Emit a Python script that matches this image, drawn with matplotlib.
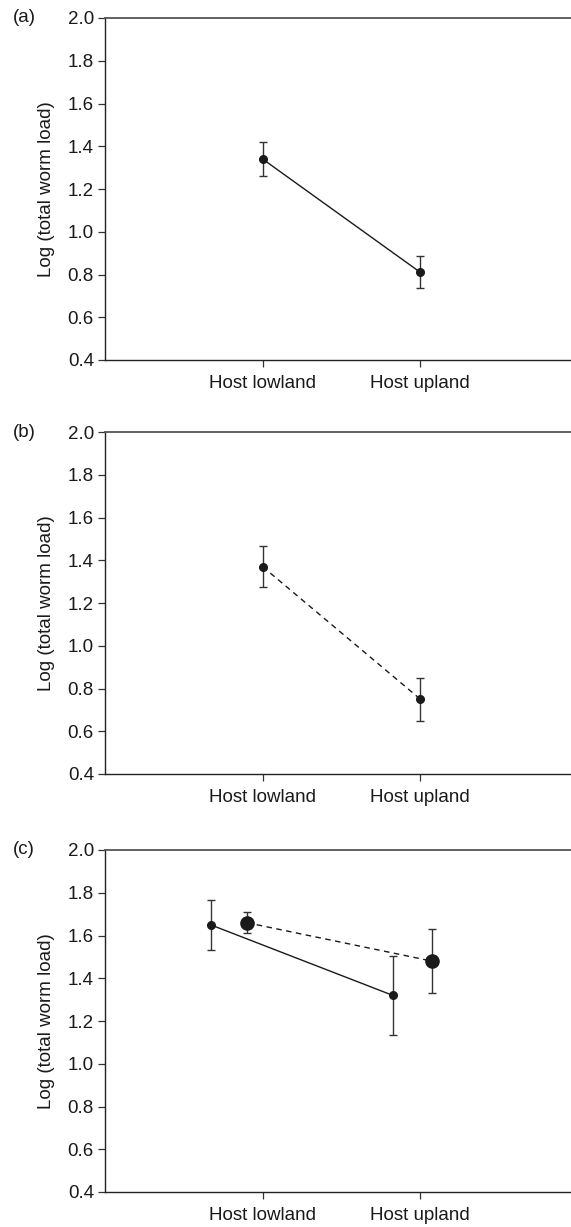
import matplotlib
matplotlib.use("Agg")
import matplotlib.pyplot as plt

plt.rcParams["font.family"] = ["Liberation Sans", "DejaVu Sans"]

categories = ["Host lowland", "Host upland"]
y_ticks = [0.4, 0.6, 0.8, 1.0, 1.2, 1.4, 1.6, 1.8, 2.0]
y_label = "Log (total worm load)"

# panel (a)
a_mean = [1.34, 0.81]
a_err = [0.08, 0.075]

# panel (b)
b_mean = [1.37, 0.75]
b_err = [0.095, 0.10]

# panel (c): two groups, dodged around the category ticks
c_solid_mean = [1.65, 1.32]
c_solid_err = [0.117, 0.185]
c_solid_dodge = [-0.33, -0.175]
c_dash_mean = [1.66, 1.48]
c_dash_err = [0.05, 0.15]
c_dash_dodge = [-0.10, 0.075]

W, H = 571, 1227
fs = 13.5
fig = plt.figure(figsize=(W / 100, H / 100), dpi=100)

left = 105 / W
width = (578 - 105) / W
height = 342 / H
tops = [18, 432, 850]
labels = ["(a)", "(b)", "(c)"]

axes = []
for top, lab in zip(tops, labels):
    ax = fig.add_axes([left, 1 - (top + 342) / H, width, height])
    ax.set_xlim(0, 3)
    ax.set_ylim(0.4, 2.0)
    ax.set_yticks(y_ticks)
    ax.set_yticklabels([f"{v:.1f}" for v in y_ticks])
    ax.set_xticks([1, 2])
    ax.set_xticklabels(categories)
    ax.spines["right"].set_visible(False)
    ax.spines["top"].set_color("#555555")
    ax.spines["top"].set_linewidth(1.3)
    for s in ("left", "bottom"):
        ax.spines[s].set_linewidth(1.0)
        ax.spines[s].set_color("#222222")
    ax.tick_params(axis="both", direction="out", length=5, width=0.9,
                   color="#333333", labelsize=fs, labelcolor="#1a1a1a")
    ax.tick_params(axis="y", pad=3)
    ax.tick_params(axis="x", pad=6)
    ax.set_ylabel(y_label, fontsize=fs, color="#1a1a1a", labelpad=9)
    fig.text(13 / W, 1 - top / H, lab, fontsize=fs, ha="left", va="center",
             color="#1a1a1a")
    axes.append(ax)

x = [1, 2]
err_kw = dict(ecolor="#333333", elinewidth=1.0, capsize=3, capthick=1.0,
              color="#1a1a1a", markerfacecolor="#1a1a1a",
              markeredgecolor="#1a1a1a", lw=1.0)

axes[0].errorbar(x, a_mean, yerr=a_err, fmt="o-", markersize=5.5, **err_kw)
axes[1].errorbar(x, b_mean, yerr=b_err, fmt="o", markersize=5.5, **err_kw)
axes[1].plot(x, b_mean, color="#1a1a1a", lw=1.0, dashes=(4, 3.2))

xs = [xi + d for xi, d in zip(x, c_solid_dodge)]
xd = [xi + d for xi, d in zip(x, c_dash_dodge)]
axes[2].errorbar(xs, c_solid_mean, yerr=c_solid_err, fmt="o-", markersize=5.5,
                 **err_kw)
axes[2].errorbar(xd, c_dash_mean, yerr=c_dash_err, fmt="o", markersize=9.5,
                 **err_kw)
axes[2].plot(xd, c_dash_mean, color="#1a1a1a", lw=1.0, dashes=(4, 3.2))

fig.savefig("out.png", dpi=100)
